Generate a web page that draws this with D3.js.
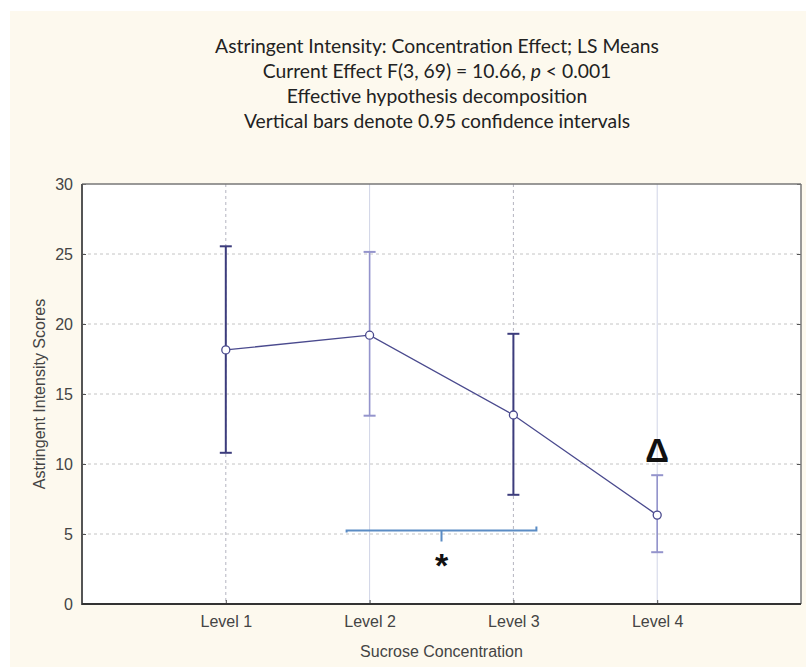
<!DOCTYPE html>
<html>
<head>
<meta charset="utf-8">
<script src="https://cdn.jsdelivr.net/npm/d3@7"></script>
<style>
    body { margin: 0; background: #ffffff; }
</style>
</head>
<body>
<svg id="chart"></svg>
<script>
const levels = ["Level 1", "Level 2", "Level 3", "Level 4"];
const means = [18.15, 19.2, 13.5, 6.35];
const lowerCI = [10.8, 13.45, 7.8, 3.7];
const upperCI = [25.55, 25.15, 19.3, 9.2];
const yTicks = [0, 5, 10, 15, 20, 25, 30];
const titleLines = [
    "Astringent Intensity: Concentration Effect; LS Means",
    "Current Effect F(3, 69) = 10.66, |p| < 0.001",
    "Effective hypothesis decomposition",
    "Vertical bars denote 0.95 confidence intervals"
];
const bracketFrom = "Level 2";
const bracketTo = "Level 3";
const bracketValue = 5.25;
const deltaLevel = "Level 4";

class MeansPlot {
    constructor(id, width, height) {
        this.width = width;
        this.height = height;
        this.margin = {left: 82, right: 5, top: 184, bottom: 64};
        this.svg = d3.select(id).attr("width", width).attr("height", height);

        this.xScale = d3.scalePoint()
            .domain(levels)
            .range([this.margin.left, width - this.margin.right])
            .padding(1);

        this.yScale = d3.scaleLinear()
            .domain([0, 30])
            .range([height - this.margin.bottom, this.margin.top]);
    }

    draw() {
        const x = this.xScale, y = this.yScale;
        const left = this.margin.left, right = this.width - this.margin.right;
        const top = this.margin.top, bottom = this.height - this.margin.bottom;

        // cream page + white plot area
        this.svg.append("rect")
            .attr("x", 10).attr("y", 11)
            .attr("width", this.width - 10).attr("height", this.height - 12)
            .attr("fill", "#fdf9ee");
        this.svg.append("rect")
            .attr("x", left).attr("y", top)
            .attr("width", right - left).attr("height", bottom - top)
            .attr("fill", "#ffffff");

        // title
        this.svg.append("g")
            .selectAll("text")
            .data(titleLines).enter()
            .append("text")
            .attr("x", 437)
            .attr("y", (d, i) => 53 + i * 25)
            .attr("text-anchor", "middle")
            .attr("font-family", "Lato, 'Open Sans', sans-serif")
            .attr("font-size", 19.3)
            .attr("fill", "#222")
            .each(function (d) {
                const parts = d.split("|");
                const t = d3.select(this);
                parts.forEach((p, k) => {
                    t.append("tspan").attr("font-style", k === 1 ? "italic" : null).text(p);
                });
            });

        // grid
        this.svg.append("g")
            .selectAll("line")
            .data(yTicks.filter(v => v > 0 && v < 30)).enter()
            .append("line")
            .attr("x1", left).attr("x2", right)
            .attr("y1", d => y(d)).attr("y2", d => y(d))
            .attr("stroke", "#c4c4c4")
            .attr("stroke-width", 1)
            .attr("stroke-dasharray", "3,3");
        this.svg.append("g")
            .selectAll("line")
            .data(levels).enter()
            .append("line")
            .attr("x1", d => x(d)).attr("x2", d => x(d))
            .attr("y1", top).attr("y2", bottom)
            .attr("stroke", (d, i) => i % 2 === 0 ? "#b4b4c0" : "#d0d4e6")
            .attr("stroke-width", 1)
            .attr("stroke-dasharray", (d, i) => i % 2 === 0 ? "3,3" : null);

        // axes
        const yAxis = d3.axisLeft(y).tickValues(yTicks).tickSize(-4).tickPadding(9);
        const xAxis = d3.axisBottom(x).tickSize(-4).tickPadding(12);

        const gy = this.svg.append("g")
            .attr("transform", "translate(" + left + ",0)")
            .call(yAxis);
        const gx = this.svg.append("g")
            .attr("transform", "translate(0," + bottom + ")")
            .call(xAxis);
        const gr = this.svg.append("g")
            .attr("transform", "translate(" + right + ",0)")
            .call(d3.axisRight(y).tickValues(yTicks).tickSize(-4).tickFormat(""));
        [gy, gx, gr].forEach(g => {
            g.selectAll("text")
                .attr("font-family", "'Liberation Sans', Arial, sans-serif")
                .attr("font-size", 16)
                .attr("fill", "#444");
            g.selectAll(".tick line").attr("stroke", "#555");
            g.select(".domain").remove();
        });

        // frame
        this.svg.append("line")
            .attr("x1", left).attr("x2", right).attr("y1", top).attr("y2", top)
            .attr("stroke", "#777").attr("stroke-width", 1.5);
        this.svg.append("line")
            .attr("x1", right).attr("x2", right).attr("y1", top).attr("y2", bottom)
            .attr("stroke", "#777").attr("stroke-width", 1.5);
        this.svg.append("line")
            .attr("x1", left).attr("x2", left).attr("y1", top).attr("y2", bottom + 1)
            .attr("stroke", "#555").attr("stroke-width", 2);
        this.svg.append("line")
            .attr("x1", left).attr("x2", right).attr("y1", bottom).attr("y2", bottom)
            .attr("stroke", "#333").attr("stroke-width", 2);

        // axis titles
        this.svg.append("text")
            .attr("x", (left + right) / 2)
            .attr("y", 657)
            .attr("text-anchor", "middle")
            .attr("font-family", "'Liberation Sans', Arial, sans-serif")
            .attr("font-size", 16)
            .attr("fill", "#444")
            .text("Sucrose Concentration");
        this.svg.append("text")
            .attr("transform", "translate(45," + (top + bottom) / 2 + ") rotate(-90)")
            .attr("text-anchor", "middle")
            .attr("font-family", "'Liberation Sans', Arial, sans-serif")
            .attr("font-size", 16)
            .attr("fill", "#444")
            .text("Astringent Intensity Scores");

        // confidence intervals
        const rows = levels.map((l, i) => ({level: l, mean: means[i], lo: lowerCI[i], hi: upperCI[i], i: i}));
        const barColor = d => d.i % 2 === 0 ? "#3c3c7c" : "#9494cc";
        const barWidth = d => d.i % 2 === 0 ? 2 : 1.6;
        const ci = this.svg.append("g").selectAll("g")
            .data(rows).enter()
            .append("g");
        ci.append("line")
            .attr("x1", d => x(d.level)).attr("x2", d => x(d.level))
            .attr("y1", d => y(d.lo)).attr("y2", d => y(d.hi))
            .attr("stroke", barColor).attr("stroke-width", barWidth);
        ci.append("line")
            .attr("x1", d => x(d.level) - 6).attr("x2", d => x(d.level) + 6)
            .attr("y1", d => y(d.lo)).attr("y2", d => y(d.lo))
            .attr("stroke", barColor).attr("stroke-width", 2);
        ci.append("line")
            .attr("x1", d => x(d.level) - 6).attr("x2", d => x(d.level) + 6)
            .attr("y1", d => y(d.hi)).attr("y2", d => y(d.hi))
            .attr("stroke", barColor).attr("stroke-width", 2);

        // means line
        const line = d3.line().x(d => x(d.level)).y(d => y(d.mean));
        this.svg.append("path")
            .datum(rows)
            .attr("d", line)
            .attr("fill", "none")
            .attr("stroke", "#4a4a8e")
            .attr("stroke-width", 1.3);
        this.svg.append("g")
            .selectAll("circle")
            .data(rows).enter()
            .append("circle")
            .attr("cx", d => x(d.level))
            .attr("cy", d => y(d.mean))
            .attr("r", 4)
            .attr("fill", "#ffffff")
            .attr("stroke", "#4a4a8e")
            .attr("stroke-width", 1.3);

        // significance bracket
        const step = x.step();
        const bx1 = x(bracketFrom) - step * 0.16, bx2 = x(bracketTo) + step * 0.16;
        const by = y(bracketValue), mid = (bx1 + bx2) / 2;
        this.svg.append("path")
            .attr("d", "M" + bx1 + "," + (by + 2) + "L" + bx1 + "," + by + "L" + bx2 + "," + by + "L" + bx2 + "," + (by - 4)
                + "M" + mid + "," + by + "L" + mid + "," + (by + 11))
            .attr("fill", "none")
            .attr("stroke", "#5b8cc4")
            .attr("stroke-width", 2);
        this.svg.append("text")
            .attr("x", mid)
            .attr("y", by + 46)
            .attr("text-anchor", "middle")
            .attr("font-family", "'Liberation Sans', Arial, sans-serif")
            .attr("font-size", 34)
            .attr("font-weight", "bold")
            .attr("fill", "#111")
            .text("*");

        this.svg.append("text")
            .attr("x", x(deltaLevel))
            .attr("y", y(upperCI[levels.indexOf(deltaLevel)]) - 13)
            .attr("text-anchor", "middle")
            .attr("font-family", "'Liberation Sans', Arial, sans-serif")
            .attr("font-size", 33)
            .attr("font-weight", "bold")
            .attr("fill", "#111")
            .text("\u0394");
    }
}

const chart = new MeansPlot("#chart", 806, 668);
chart.draw();
</script>
</body>
</html>
